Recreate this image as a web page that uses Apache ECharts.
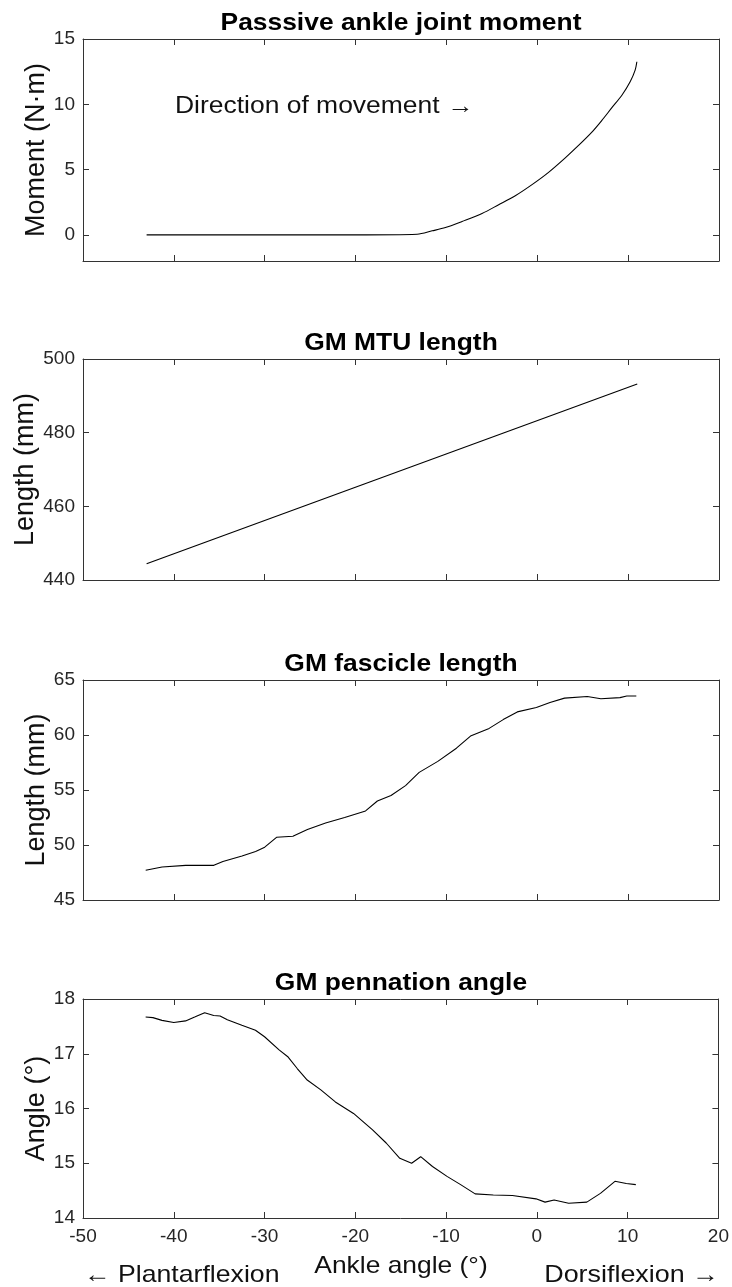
<!DOCTYPE html>
<html>
<head>
<meta charset="utf-8">
<script src="https://cdn.jsdelivr.net/npm/echarts@6.0.0/dist/echarts.min.js"></script>
<style>
html,body{margin:0;padding:0;background:#fff;}
#chart{width:732px;height:1287px;}
</style>
</head>
<body>
<div id="chart"></div>
<script>
// ---------- data ----------
const xTicks = [-50, -40, -30, -20, -10, 0, 10, 20];
const momentTicks = [0, 5, 10, 15];
const mtuTicks = [440, 460, 480, 500];
const fascTicks = [45, 50, 55, 60, 65];
const pennTicks = [14, 15, 16, 17, 18];

const panelTitles = ['Passsive ankle joint moment', 'GM MTU length', 'GM fascicle length', 'GM pennation angle'];
const yNames = ['Moment (N·m)', 'Length (mm)', 'Length (mm)', 'Angle (°)'];
const xName = 'Ankle angle (°)';
const noteText = 'Direction of movement →';
const leftNote = '← Plantarflexion';
const rightNote = 'Dorsiflexion →';

const momentX = [-43, -30, -20, -13.22, -11.57, -10.11, -8.28, -6.08, -4.25, -2.42, -0.58, 1.24, 3.08, 4.54, 6.01, 7.11, 8.21, 9.31, 10.22, 10.77, 10.96];
const momentY = [0, 0, 0, 0.05, 0.31, 0.56, 1.03, 1.64, 2.31, 3.0, 3.85, 4.79, 5.9, 6.85, 7.87, 8.77, 9.74, 10.69, 11.72, 12.62, 13.26];

const mtuX = [-43, 11];
const mtuY = [444.4, 493.2];

const fascX = [-43.1, -41.3, -38.7, -35.6, -34.6, -32.5, -31.0, -30.0, -28.7, -26.9, -25.3, -23.3, -21.2, -18.9, -17.6, -16.1, -14.5, -13.0, -10.95, -8.9, -7.35, -5.3, -3.75, -2.2, -0.1, 1.4, 3.0, 5.5, 7.0, 9.1, 9.85, 10.9];
const fascY = [47.7, 48.0, 48.15, 48.15, 48.5, 49.0, 49.4, 49.8, 50.7, 50.8, 51.4, 52.0, 52.5, 53.1, 54.0, 54.5, 55.4, 56.6, 57.6, 58.8, 59.9, 60.6, 61.4, 62.1, 62.5, 62.95, 63.35, 63.5, 63.3, 63.4, 63.55, 63.55];

const pennX = [-43.1, -42.3, -41.3, -40, -38.7, -37.7, -36.6, -35.6, -34.9, -34.1, -32.5, -31.0, -30.0, -28.4, -27.4, -26.4, -25.3, -23.8, -22.2, -20.2, -18.1, -16.6, -15.1, -13.8, -12.8, -11.5, -9.9, -8.4, -6.8, -4.8, -2.7, -0.1, 0.9, 1.9, 3.5, 5.5, 7.0, 8.6, 9.85, 10.9];
const pennY = [17.67, 17.66, 17.61, 17.57, 17.6, 17.67, 17.75, 17.70, 17.69, 17.62, 17.52, 17.43, 17.31, 17.07, 16.94, 16.73, 16.52, 16.34, 16.12, 15.91, 15.61, 15.37, 15.09, 15.0, 15.12, 14.94, 14.76, 14.61, 14.44, 14.42, 14.41, 14.35, 14.29, 14.33, 14.27, 14.29, 14.45, 14.67, 14.63, 14.61];

// ---------- layout ----------
const FONT = '"Liberation Sans", Arial, Helvetica, sans-serif';
const AX = '#333';
const gridTops = [39, 359, 680, 999];
const gridHeights = [222, 221, 220, 219];
const nameGaps = [33, 44, 33, 33];
const yRanges = [[-2, 15], [440, 500], [45, 65], [14, 18]];
const yTickSets = [momentTicks, mtuTicks, fascTicks, pennTicks];
const seriesX = [momentX, mtuX, fascX, pennX];
const seriesY = [momentY, mtuY, fascY, pennY];

const zip = (a, b) => a.map((v, i) => [v, b[i]]);

const grids = [], xAxes = [], yAxes = [], series = [], graphics = [];
for (let i = 0; i < 4; i++) {
  grids.push({left: 83, right: 13, top: gridTops[i], height: gridHeights[i], show: false, containLabel: false});
  const last = i === 3;
  const baseX = {
    type: 'value', gridIndex: i, min: -50, max: 20,
    axisLine: {show: true, onZero: false, lineStyle: {color: AX, width: 1}},
    axisTick: {show: true, inside: true, length: 6, customValues: xTicks, lineStyle: {color: AX}},
    splitLine: {show: false}
  };
  xAxes.push(Object.assign({}, baseX, {
    position: 'bottom',
    axisLabel: {show: last, customValues: xTicks, color: '#262626', fontSize: 19, fontFamily: FONT, margin: 9}
  }));
  xAxes.push(Object.assign({}, baseX, {position: 'top', axisLabel: {show: false}}));

  const baseY = {
    type: 'value', gridIndex: i, min: yRanges[i][0], max: yRanges[i][1],
    axisLine: {show: true, onZero: false, lineStyle: {color: AX, width: 1}},
    axisTick: {show: true, inside: true, length: 6, customValues: yTickSets[i], lineStyle: {color: AX}},
    splitLine: {show: false}
  };
  yAxes.push(Object.assign({}, baseY, {
    position: 'left',
    axisLabel: {show: true, customValues: yTickSets[i], color: '#262626', fontSize: 19, fontFamily: FONT, margin: 8},
    name: yNames[i], nameLocation: 'middle', nameGap: nameGaps[i], nameRotate: 90, nameMoveOverlap: false,
    nameTextStyle: {color: '#111', fontSize: 27, fontFamily: FONT}
  }));
  yAxes.push(Object.assign({}, baseY, {position: 'right', axisLabel: {show: false}}));

  series.push({
    type: 'line', xAxisIndex: 2 * i, yAxisIndex: 2 * i,
    data: zip(seriesX[i], seriesY[i]),
    showSymbol: false, smooth: i === 0 ? 0.3 : false,
    lineStyle: {color: '#000', width: 1.1},
    animation: false
  });

  graphics.push({
    type: 'text', x: 401, y: gridTops[i] - 16, scaleX: 1.1,
    style: {text: panelTitles[i], font: 'bold 24px ' + FONT, fill: '#000', textAlign: 'center', textVerticalAlign: 'middle'}
  });
}

graphics.push({
  type: 'text', x: 175, y: 107, scaleX: 1.15,
  style: {text: noteText, font: '23px ' + FONT, fill: '#111', textAlign: 'left', textVerticalAlign: 'middle'}
});
graphics.push({
  type: 'text', x: 401, y: 1266, scaleX: 1.1,
  style: {text: xName, font: '24px ' + FONT, fill: '#111', textAlign: 'center', textVerticalAlign: 'middle'}
});
graphics.push({
  type: 'text', x: 84, y: 1275, scaleX: 1.11,
  style: {text: leftNote, font: '24px ' + FONT, fill: '#111', textAlign: 'left', textVerticalAlign: 'middle'}
});
graphics.push({
  type: 'text', x: 719, y: 1275, scaleX: 1.12,
  style: {text: rightNote, font: '24px ' + FONT, fill: '#111', textAlign: 'right', textVerticalAlign: 'middle'}
});

const chart = echarts.init(document.getElementById('chart'), null, {renderer: 'canvas'});
chart.setOption({
  backgroundColor: '#fff',
  animation: false,
  grid: grids,
  xAxis: xAxes,
  yAxis: yAxes,
  series: series,
  graphic: graphics
});
</script>
</body>
</html>
